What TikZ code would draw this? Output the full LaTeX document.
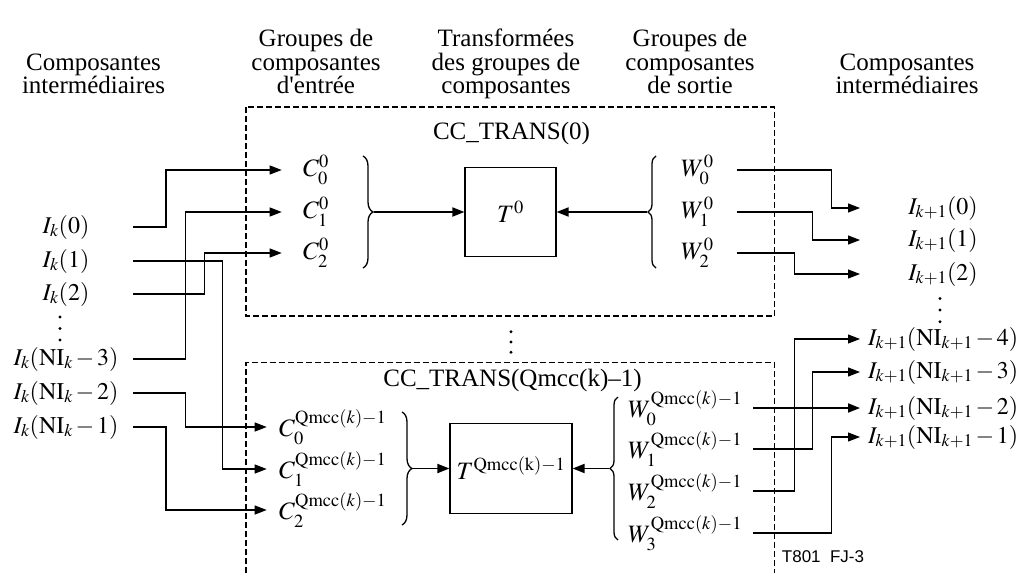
\documentclass[tikz,border=0pt]{standalone}
\usepackage{mathptmx}
\usepackage{fontspec}
\setmainfont{Liberation Serif}
\newfontfamily\aposfont{Liberation Serif}
\newfontfamily\tagfont{Liberation Sans}
\usetikzlibrary{arrows.meta, decorations.pathreplacing}

\begin{document}
\begin{tikzpicture}[x=1pt, y=-1pt, >={Triangle[length=12pt,width=9pt]},
  every node/.style={font=\fontsize{25}{23.3}\selectfont},
  ilbl/.style={font={\fontsize{24}{26}\selectfont\medmuskip=2mu}},
  wire/.style={line width=1.1pt},
  bus/.style={line width=1.8pt},
  dbox/.style={line width=1.3pt, dash pattern=on 6pt off 3pt},
  brc/.style={line width=1.3pt, decorate, decoration={brace,amplitude=#1}},
  brc/.default=10pt,
  lbl/.style={anchor=west, inner sep=0pt},
  tbox/.style={draw, line width=1.1pt, inner sep=0pt}]
  \useasboundingbox (0,0) rectangle (1022,573);
  % column headings
  \node[anchor=base, align=center] (hin) at (93.5,93.3) {Composantes\\intermédiaires};
  \node[anchor=base, align=center] (hgin) at (316,93.3) {Groupes de\\composantes\\d{\aposfont'}entrée};
  \node[anchor=base, align=center] (htr) at (506,93.3) {Transformées\\des groupes de\\composantes};
  \node[anchor=base, align=center] (hgout) at (690,93.3) {Groupes de\\composantes\\de sortie};
  \node[anchor=base, align=center] (hout) at (907,93.3) {Composantes\\intermédiaires};
  % the two transform blocks
  \draw[dbox] (246,107) rectangle (774.5,316);
  \draw[dbox] (246,573) |- (774.5,362.7) -- (774.5,573);
  \node (cc0) at (511.5,133) {CC\_TRANS(0)};
  \node (ccq) at (512.5,380) {CC\_TRANS(Qmcc(k)–1)};
  \foreach \y in {331.7,342,352.3} \fill (511,\y) circle (1.6pt);
  % input components
  \node[ilbl] (ik0) at (66,227) {$I_k(0)$};
  \node[ilbl] (ik1) at (66,261) {$I_k(1)$};
  \node[ilbl] (ik2) at (66,294) {$I_k(2)$};
  \foreach \y in {317,328.5,340} \fill (60,\y) circle (1.6pt);
  \node[ilbl] (ikn3) at (66,359) {$I_k(\mathrm{NI}_k-3)$};
  \node[ilbl] (ikn2) at (66,393) {$I_k(\mathrm{NI}_k-2)$};
  \node[ilbl] (ikn1) at (66,427) {$I_k(\mathrm{NI}_k-1)$};
  % input groups
  \node[lbl] (c00) at (303,170) {$C_0^0$};
  \node[lbl] (c10) at (303,212) {$C_1^0$};
  \node[lbl] (c20) at (303,253) {$C_2^0$};
  \node[lbl] (c0q) at (279,427) {$C_0^{\mathrm{Qmcc}(k)-1}$};
  \node[lbl] (c1q) at (279,469) {$C_1^{\mathrm{Qmcc}(k)-1}$};
  \node[lbl] (c2q) at (279,510) {$C_2^{\mathrm{Qmcc}(k)-1}$};
  % transforms
  \node[tbox, minimum width=91pt, minimum height=89pt] (t0) at (510.5,212) {$T^0$};
  \node[tbox, minimum width=122pt, minimum height=90pt] (tq) at (511,468.5) {$T^{\mathrm{Qmcc(k)}-1}$};
  % output groups
  \node[lbl] (w00) at (681,170) {$W_0^0$};
  \node[lbl] (w10) at (681,212) {$W_1^0$};
  \node[lbl] (w20) at (681,253) {$W_2^0$};
  \node[lbl] (w0q) at (628,408) {$W_0^{\mathrm{Qmcc}(k)-1}$};
  \node[lbl] (w1q) at (628,449) {$W_1^{\mathrm{Qmcc}(k)-1}$};
  \node[lbl] (w2q) at (628,491) {$W_2^{\mathrm{Qmcc}(k)-1}$};
  \node[lbl] (w3q) at (628,533) {$W_3^{\mathrm{Qmcc}(k)-1}$};
  % output components
  \node[ilbl] (i0) at (943,208) {$I_{k+1}(0)$};
  \node[ilbl] (i1) at (943,240) {$I_{k+1}(1)$};
  \node[ilbl] (i2) at (943,274) {$I_{k+1}(2)$};
  \foreach \y in {298.5,310,321.7} \fill (940,\y) circle (1.6pt);
  \node[lbl, ilbl] (in4) at (868,339) {$I_{k+1}(\mathrm{NI}_{k+1}-4)$};
  \node[lbl, ilbl] (in3) at (868,372) {$I_{k+1}(\mathrm{NI}_{k+1}-3)$};
  \node[lbl, ilbl] (in2) at (868,408) {$I_{k+1}(\mathrm{NI}_{k+1}-2)$};
  \node[lbl, ilbl] (in1) at (868,437) {$I_{k+1}(\mathrm{NI}_{k+1}-1)$};
  \node[font=\tagfont\fontsize{17}{20}\selectfont] (tag) at (823,557) {T801~~FJ-3};
  % wire ends
  \coordinate (inL) at (133,0);
  \coordinate (tipC) at (281.7,0);
  \coordinate (tipCq) at (266.7,0);
  \coordinate (outW) at (736.7,0);
  \coordinate (outWq) at (753.3,0);
  \coordinate (tipI) at (860,0);
  % braces
  \draw[brc] (363,156) -- (363,268);
  \draw[brc=8pt] (656,268) -- (656,156);
  \draw[brc] (402,412) -- (402,525);
  \draw[brc=8pt] (618,540) -- (618,397);
  \coordinate (bc0) at (374,212);
  \coordinate (bw0) at (647,212);
  \coordinate (bcq) at (413,468.5);
  \coordinate (bwq) at (609,468.5);
  \draw[bus,->] (bc0) -- (t0);
  \draw[bus,->] (bw0) -- (t0);
  \draw[bus,->] (bcq) -- (tq);
  \draw[bus,->] (bwq) -- (tq);
  % routing into the groups
  \draw[wire,->] (ik0 -| inL) -- ++(33,0) |- (c00 -| tipC);
  \draw[wire,->] (ikn3 -| inL) -- ++(52.7,0) |- (c10 -| tipC);
  \draw[wire,->] (ik2 -| inL) -- ++(71.3,0) |- (c20 -| tipC);
  \draw[wire,->] (ik1 -| inL) -- ++(89.7,0) |- (c1q -| tipCq);
  \draw[wire,->] (ikn2 -| inL) -- ++(52.7,0) |- (c0q -| tipCq);
  \draw[wire,->] (ikn1 -| inL) -- ++(33,0) |- (c2q -| tipCq);
  % routing out of the groups
  \draw[wire,->] (w00 -| outW) -- ++(95,0) |- (i0 -| tipI);
  \draw[wire,->] (w10 -| outW) -- ++(75.6,0) |- (i1 -| tipI);
  \draw[wire,->] (w20 -| outW) -- ++(57.6,0) |- (i2 -| tipI);
  \draw[bus,->] (w0q -| outWq) -- (in2 -| tipI);
  \draw[wire,->] (w1q -| outWq) -- ++(59,0) |- (in3 -| tipI);
  \draw[wire,->] (w2q -| outWq) -- ++(41,0) |- (in4 -| tipI);
  \draw[wire,->] (w3q -| outWq) -- ++(78.4,0) |- (in1 -| tipI);
\end{tikzpicture}
\end{document}
